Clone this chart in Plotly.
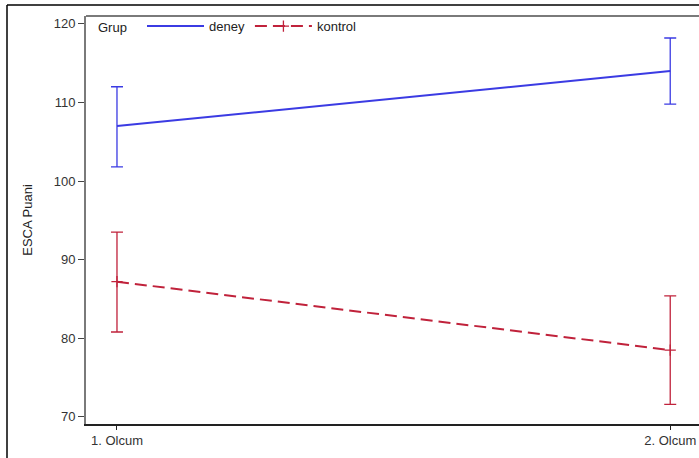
import plotly.graph_objects as go

# Measurement occasions and group means with error-bar limits
occasions = ["1. Olcum", "2. Olcum"]
x_pos = [0, 1]

deney_mean = [107.0, 114.0]
deney_upper = [112.0, 118.2]
deney_lower = [101.8, 109.8]

kontrol_mean = [87.2, 78.5]
kontrol_upper = [93.5, 85.4]
kontrol_lower = [80.8, 71.6]

y_ticks = [70, 80, 90, 100, 110, 120]

BLUE = "#3b3be3"
RED = "#c0223b"
FONT = "Liberation Sans, Arial, sans-serif"


def err(mean, upper, lower):
    plus = [u - m for u, m in zip(upper, mean)]
    minus = [m - l for m, l in zip(mean, lower)]
    return plus, minus


fig = go.Figure()

dp, dm = err(deney_mean, deney_upper, deney_lower)
fig.add_trace(go.Scatter(
    x=x_pos, y=deney_mean, name="deney", mode="lines",
    line=dict(color=BLUE, width=2),
    error_y=dict(type="data", symmetric=False, array=dp, arrayminus=dm,
                 color=BLUE, thickness=1.3, width=6),
))

kp, km = err(kontrol_mean, kontrol_upper, kontrol_lower)
fig.add_trace(go.Scatter(
    x=x_pos, y=kontrol_mean, name="kontrol", mode="lines+markers",
    line=dict(color=RED, width=2, dash="12px,6px"),
    marker=dict(symbol="cross-thin", size=8, line=dict(color=RED, width=1.3)),
    error_y=dict(type="data", symmetric=False, array=kp, arrayminus=km,
                 color=RED, thickness=1.3, width=6),
))

fig.update_layout(
    width=699, height=458,
    margin=dict(l=86, r=0, t=16, b=34),
    paper_bgcolor="white", plot_bgcolor="white",
    font=dict(family=FONT, size=13, color="#333333"),
    showlegend=True,
    legend=dict(
        orientation="h", x=(142 - 86) / 613, y=1.012, xanchor="left", yanchor="top",
        font=dict(size=13, color="#222222"),
        bgcolor="rgba(0,0,0,0)", itemwidth=57, tracegroupgap=0,
    ),
    annotations=[
        dict(text="Grup", xref="paper", yref="paper",
             x=(96 - 86) / 613, y=1 - 11 / 408, xanchor="left", yanchor="middle",
             showarrow=False, font=dict(size=13, color="#222222")),
    ],
    xaxis=dict(
        range=[-0.056, 1.052],
        tickvals=x_pos, ticktext=occasions,
        showgrid=False, zeroline=False,
        showline=True, linecolor="#222222", linewidth=1.5,
        ticks="outside", ticklen=4, tickcolor="#222222", tickwidth=1,
        tickfont=dict(size=13, color="#333333"),
    ),
    yaxis=dict(
        range=[69.1, 121.0],
        tickvals=y_ticks,
        showgrid=False, zeroline=False,
        showline=True, linecolor="#7a7a7a", linewidth=2,
        ticks="outside", ticklen=6, tickcolor="#444444", tickwidth=1,
        tickfont=dict(size=13, color="#333333"),
        title=dict(text="ESCA Puani", font=dict(size=13, color="#222222"), standoff=18),
    ),
    shapes=[
        # gray top edge of the plot area
        dict(type="line", xref="paper", yref="paper", x0=0, x1=1.02, y0=1, y1=1,
             line=dict(color="#7a7a7a", width=2)),
        # outer frame around the whole graphic
        dict(type="line", xref="paper", yref="paper",
             x0=-79 / 613, x1=-79 / 613, y0=1 + 11 / 408, y1=-34 / 408 - 0.01,
             line=dict(color="black", width=1.5)),
        dict(type="line", xref="paper", yref="paper",
             x0=-79 / 613, x1=1.02, y0=1 + 11 / 408, y1=1 + 11 / 408,
             line=dict(color="black", width=1.5)),
    ],
)

fig.write_html("out.html")
